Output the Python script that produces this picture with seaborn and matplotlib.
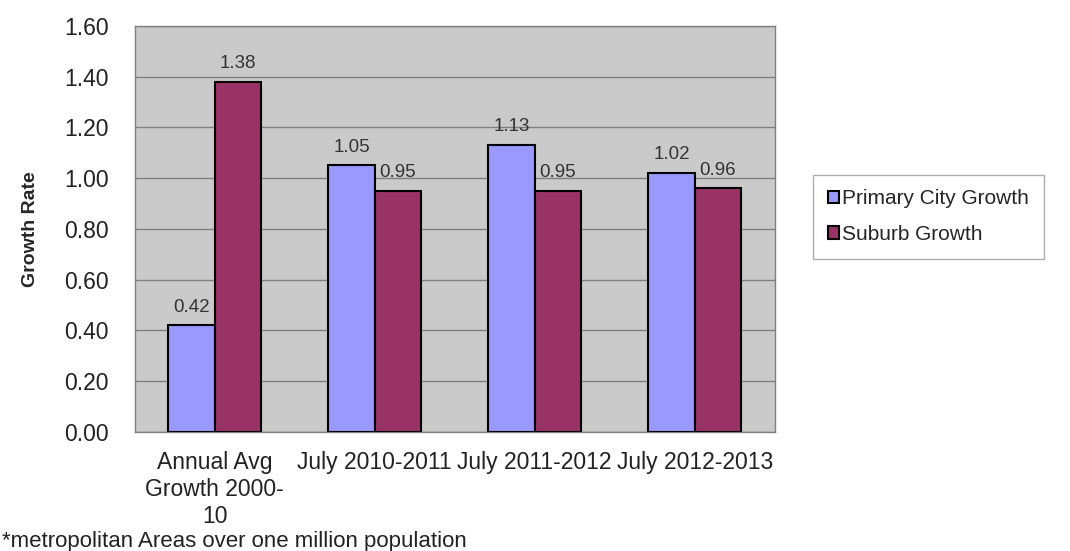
import pandas as pd
import seaborn as sns
import matplotlib.pyplot as plt
from matplotlib.ticker import FixedLocator

# chart values
periods = ['Annual Avg\nGrowth 2000-\n10', 'July 2010-2011', 'July 2011-2012', 'July 2012-2013']
primary_city = [0.42, 1.05, 1.13, 1.02]
suburb = [1.38, 0.95, 0.95, 0.96]
series_names = ['Primary City Growth', 'Suburb Growth']
y_ticks = [0.0, 0.2, 0.4, 0.6, 0.8, 1.0, 1.2, 1.4, 1.6]

df = pd.DataFrame({
    'period': periods * 2,
    'series': [series_names[0]] * 4 + [series_names[1]] * 4,
    'rate': primary_city + suburb,
})

sns.set_style('white')
plt.rcParams['font.family'] = ['Liberation Sans', 'DejaVu Sans']

fig = plt.figure(figsize=(10.7, 5.51), dpi=100)
ax = fig.add_axes([0.126, 0.216, 0.598, 0.737])
ax.set_facecolor('#CACACA')

sns.barplot(data=df, x='period', y='rate', hue='series', order=periods,
            palette=['#9999FF', '#993366'], saturation=1, width=0.58,
            edgecolor='black', linewidth=1.5, ax=ax, zorder=3)

for cont in ax.containers:
    ax.bar_label(cont, fmt='%.2f', padding=7, fontsize=13.5, color='#333333')

ax.set_ylim(0, 1.6)
ax.set_yticks(y_ticks)
ax.set_yticklabels([f'{v:.2f}' for v in y_ticks], fontsize=16.5, color='#222222')
ax.set_xlim(-0.5, 3.5)
ax.tick_params(axis='x', which='major', length=0, labelsize=16.5, labelcolor='#222222', pad=14)
ax.xaxis.set_minor_locator(FixedLocator([-0.5, 0.5, 1.5, 2.5, 3.5]))
ax.tick_params(axis='x', which='minor', length=5, color='#808080', width=1)
ax.tick_params(axis='y', length=5, color='#808080', width=1, pad=14)
ax.grid(axis='y', color='#808080', linewidth=1, zorder=0)
ax.set_axisbelow(True)
for s in ax.spines.values():
    s.set_color('#808080')
    s.set_linewidth(1)

ax.set_xlabel('')
ax.set_ylabel('Growth Rate', fontsize=14, fontweight='bold', labelpad=18)

ax.legend(loc='center left', bbox_to_anchor=(1.06, 0.53), frameon=True,
          fancybox=False, edgecolor='#999999', fontsize=15,
          handlelength=0.55, handleheight=0.55, handletextpad=0.15,
          labelspacing=0.8, borderpad=0.7, borderaxespad=0)

fig.text(0.002, 0.008, '*metropolitan Areas over one million population',
         fontsize=16, color='#222222')

fig.savefig('out.png', dpi=100, facecolor='white')
